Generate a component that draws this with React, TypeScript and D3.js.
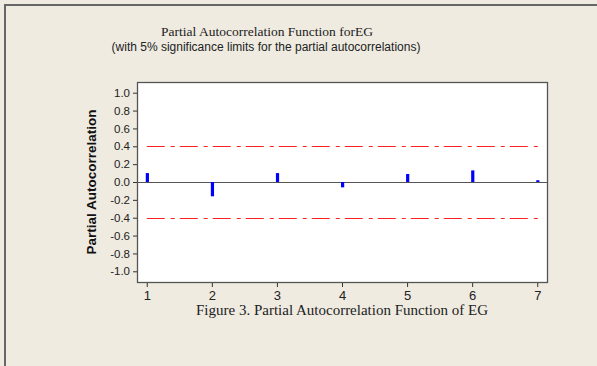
import React, { useEffect, useRef } from "react";
import * as d3 from "d3";

// PACF values
const lags = [1, 2, 3, 4, 5, 6, 7];
const pacf = [0.1, -0.16, 0.1, -0.06, 0.09, 0.13, 0.02];
const yTicks = [1.0, 0.8, 0.6, 0.4, 0.2, 0.0, -0.2, -0.4, -0.6, -0.8, -1.0];
const sigLimit = 0.405;

const W = 597;
const H = 366;

const App = () => {
  const ref = useRef<SVGSVGElement>(null);

  useEffect(() => {
    const svg = d3.select(ref.current);
    svg.selectAll("*").remove();

    const plot = { left: 137, right: 547, top: 82, bottom: 282 };

    const x = d3.scaleLinear().domain([0.85, 7.15]).range([plot.left, plot.right]);
    const y = d3.scaleLinear().domain([-1.12, 1.12]).range([plot.bottom, plot.top]);

    // page background + outer frame
    svg.append("rect").attr("width", W).attr("height", H).attr("fill", "#efebe1");
    svg
      .append("path")
      .attr("d", `M5,${H + 5} V5 H${W + 5}`)
      .attr("fill", "none")
      .attr("stroke", "#666")
      .attr("stroke-width", 2);

    // plot area
    svg
      .append("rect")
      .attr("x", plot.left)
      .attr("y", plot.top)
      .attr("width", plot.right - plot.left)
      .attr("height", plot.bottom - plot.top)
      .attr("fill", "#fff");

    // significance limits
    [sigLimit, -sigLimit].forEach((v) => {
      svg
        .append("line")
        .attr("x1", x(1))
        .attr("x2", x(7) + 1)
        .attr("y1", Math.round(y(v)) + 0.5)
        .attr("y2", Math.round(y(v)) + 0.5)
        .attr("stroke", "#ff2020")
        .attr("stroke-width", 1)
        .attr("stroke-dasharray", "18,6,4,5");
    });

    // zero line
    svg
      .append("line")
      .attr("x1", plot.left)
      .attr("x2", plot.right)
      .attr("y1", Math.round(y(0)) + 0.5)
      .attr("y2", Math.round(y(0)) + 0.5)
      .attr("stroke", "#555")
      .attr("stroke-width", 1);

    // spikes
    svg
      .selectAll(".spike")
      .data(lags)
      .enter()
      .append("rect")
      .attr("class", "spike")
      .attr("x", (d) => x(d) - 1)
      .attr("width", 3.2)
      .attr("y", (d, i) => Math.min(y(pacf[i]), y(0)))
      .attr("height", (d, i) => Math.max(Math.abs(y(pacf[i]) - y(0)), 1.5))
      .attr("fill", "#0000ff");

    // plot border
    svg
      .append("rect")
      .attr("x", plot.left + 0.5)
      .attr("y", plot.top + 0.5)
      .attr("width", plot.right - plot.left)
      .attr("height", plot.bottom - plot.top)
      .attr("fill", "none")
      .attr("stroke", "#555")
      .attr("stroke-width", 1.3);

    // axes (hyphen minus, like the original)
    const fmt = (d: number) => d3.format(".1f")(d).replace("\u2212", "-");
    const yAxis = svg
      .append("g")
      .attr("transform", `translate(${plot.left},0)`)
      .call(d3.axisLeft(y).tickValues(yTicks).tickFormat(fmt as any).tickSize(4).tickPadding(3));
    yAxis.select(".domain").remove();

    const xAxis = svg
      .append("g")
      .attr("transform", `translate(0,${plot.bottom + 1})`)
      .call(d3.axisBottom(x).tickValues(lags).tickFormat(d3.format("d")).tickSize(4).tickPadding(4));
    xAxis.select(".domain").remove();

    [yAxis, xAxis].forEach((g) => {
      g.selectAll("line").attr("stroke", "#333");
      g.selectAll("text")
        .attr("fill", "#222")
        .style("font-family", "'Liberation Sans', Arial, sans-serif")
        .style("font-size", "11.5px");
    });
    xAxis.selectAll("text").style("font-size", "13px");

    // y label
    svg
      .append("text")
      .attr("transform", `translate(96,${(plot.top + plot.bottom) / 2}) rotate(-90)`)
      .attr("text-anchor", "middle")
      .style("font-family", "'Liberation Sans', Arial, sans-serif")
      .style("font-weight", "bold")
      .style("font-size", "13.5px")
      .attr("fill", "#111")
      .text("Partial Autocorrelation");

    // titles
    svg
      .append("text")
      .attr("x", 267)
      .attr("y", 36)
      .attr("text-anchor", "middle")
      .style("font-family", "'Liberation Serif', 'Times New Roman', serif")
      .style("font-size", "13.5px")
      .attr("fill", "#222")
      .text("Partial Autocorrelation Function forEG");

    svg
      .append("text")
      .attr("x", 266)
      .attr("y", 51)
      .attr("text-anchor", "middle")
      .style("font-family", "'Liberation Sans', Arial, sans-serif")
      .style("font-size", "12px")
      .attr("fill", "#222")
      .text("(with 5% significance limits for the partial autocorrelations)");

    // caption
    svg
      .append("text")
      .attr("x", 342)
      .attr("y", 315)
      .attr("text-anchor", "middle")
      .style("font-family", "'Liberation Serif', 'Times New Roman', serif")
      .style("font-size", "15px")
      .attr("fill", "#222")
      .text("Figure 3. Partial Autocorrelation Function of EG");
  }, []);

  return (
    <svg
      ref={ref}
      width={W}
      height={H}
      style={{ position: "absolute", left: 0, top: 0, display: "block" }}
    />
  );
};

export default App;
